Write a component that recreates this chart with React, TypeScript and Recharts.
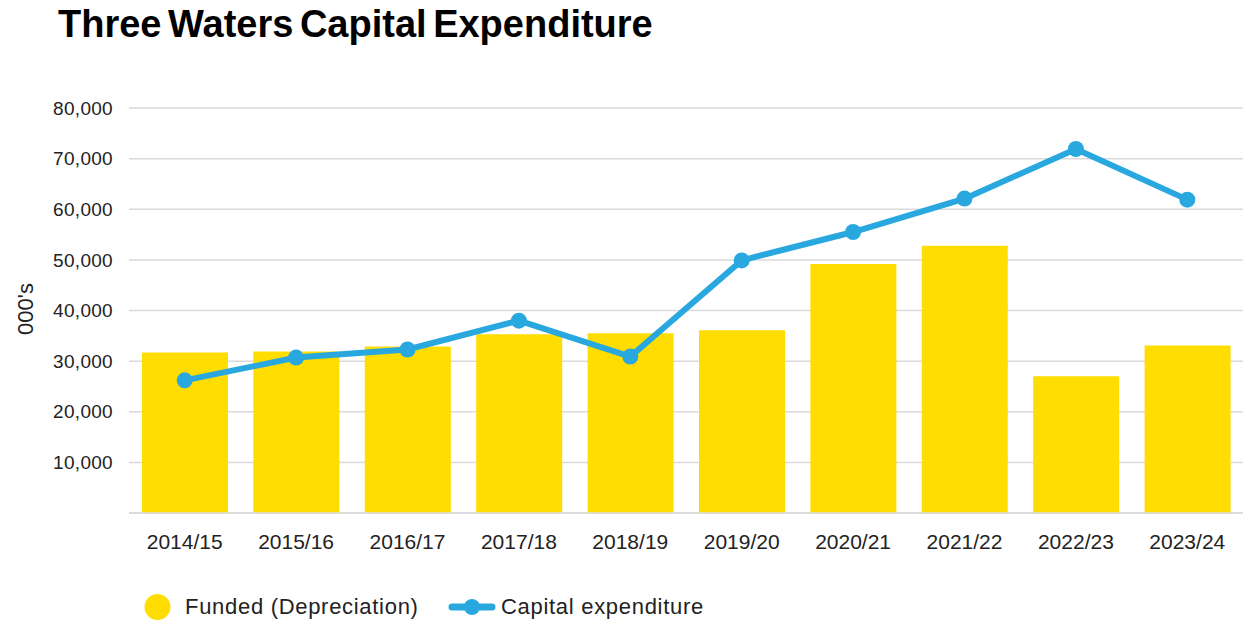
import React from 'react';
import { ComposedChart, Bar, Line, XAxis, YAxis, CartesianGrid, Legend } from 'recharts';

const years = ['2014/15', '2015/16', '2016/17', '2017/18', '2018/19', '2019/20', '2020/21', '2021/22', '2022/23', '2023/24'];
const funded = [31700, 31900, 32900, 35300, 35500, 36100, 49200, 52800, 27000, 33100];
const capex = [26200, 30700, 32300, 38000, 30900, 49900, 55500, 62100, 71900, 61900];
const yTicks = [0, 10000, 20000, 30000, 40000, 50000, 60000, 70000, 80000];

const data = years.map((y, i) => ({ year: y, funded: funded[i], capex: capex[i] }));

const FONT = '"Liberation Sans", Arial, sans-serif';
const YELLOW = '#FFDD00';
const BLUE = '#29A8E0';

const fmt = (v: number) => (v === 0 ? '' : v.toLocaleString('en-US'));

const LegendContent = (props: any) => {
  const payload = props.payload || [];
  const f = payload.find((p: any) => p.dataKey === 'funded');
  const c = payload.find((p: any) => p.dataKey === 'capex');
  return (
    <svg width={1243} height={34} style={{ display: 'block' }}>
      <circle cx={157.5} cy={16} r={13} fill={f ? f.color : YELLOW} />
      <text x={185} y={23} fontFamily={FONT} fontSize={22} letterSpacing={0.7} fill="#222">
        {f ? f.value : ''}
      </text>
      <line x1={452} y1={16} x2={492} y2={16} stroke={c ? c.color : BLUE} strokeWidth={7} strokeLinecap="round" />
      <circle cx={472} cy={16} r={8} fill={c ? c.color : BLUE} />
      <text x={501} y={23} fontFamily={FONT} fontSize={22} letterSpacing={0.7} fill="#222">
        {c ? c.value : ''}
      </text>
    </svg>
  );
};

export default function App() {
  return (
    <div style={{ position: 'absolute', left: 0, top: 0, width: 1243, height: 621, background: '#fff' }}>
      <div
        style={{
          position: 'absolute',
          left: 58,
          top: 5,
          fontFamily: FONT,
          fontWeight: 'bold',
          fontSize: 38,
          lineHeight: '38px',
          wordSpacing: -4,
          color: '#000',
          whiteSpace: 'nowrap',
          zIndex: 2,
        }}
      >
        Three Waters Capital Expenditure
      </div>
      <ComposedChart width={1243} height={621} data={data} margin={{ top: 108, right: 0, bottom: 78, left: 0 }}>
        <CartesianGrid vertical={false} stroke="#DADADA" strokeWidth={1.5} />
        <XAxis
          dataKey="year"
          height={30}
          axisLine={{ stroke: '#DADADA', strokeWidth: 1.5 }}
          tickLine={false}
          tickMargin={15}
          tick={{ fontFamily: FONT, fontSize: 21, fill: '#222' }}
          interval={0}
        />
        <YAxis
          width={129}
          domain={[0, 80000]}
          ticks={yTicks}
          tickFormatter={fmt}
          axisLine={false}
          tickLine={false}
          tickMargin={10}
          tick={{ fontFamily: FONT, fontSize: 19, fill: '#222', letterSpacing: 0.3 }}
          label={({ viewBox }: any) => (
            <text
              x={25}
              y={309}
              transform="rotate(-90 25 309)"
              textAnchor="middle"
              dominantBaseline="central"
              fontFamily={FONT}
              fontSize={22}
              fill="#222"
            >
              000's
            </text>
          )}
        />
        <Legend
          verticalAlign="middle"
          align="center"
          layout="horizontal"
          wrapperStyle={{ top: 591, left: 0, width: 1243 }}
          content={<LegendContent />}
        />
        <Bar dataKey="funded" name="Funded (Depreciation)" fill={YELLOW} barSize={86} isAnimationActive={false} />
        <Line
          dataKey="capex"
          name="Capital expenditure"
          stroke={BLUE}
          strokeWidth={6}
          dot={{ r: 8, fill: BLUE, stroke: BLUE, strokeWidth: 0 }}
          activeDot={false}
          isAnimationActive={false}
        />
      </ComposedChart>
    </div>
  );
}
